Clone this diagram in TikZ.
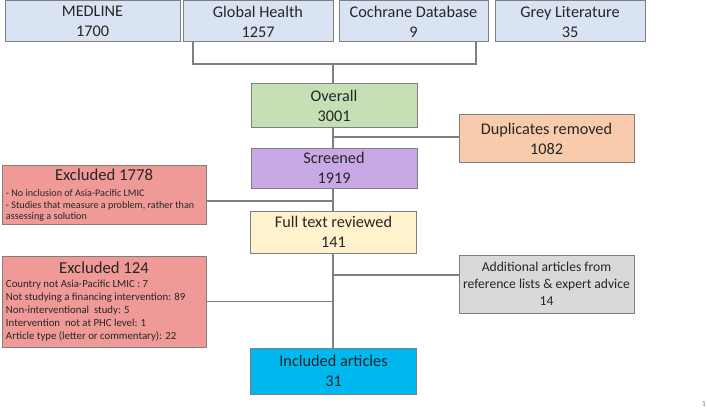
\documentclass[tikz,border=0pt]{standalone}
\usepackage{fontspec}
\setmainfont{Carlito}
\usepackage{tikz}
\usetikzlibrary{positioning,calc}

\definecolor{linegray}{HTML}{7F7F7F}
\definecolor{txt}{HTML}{262626}
\definecolor{srcblue}{HTML}{DAE3F3}
\definecolor{overallgreen}{HTML}{C5E0B4}
\definecolor{duppeach}{HTML}{F8CBAD}
\definecolor{screenpurple}{HTML}{C8A9E6}
\definecolor{exclred}{HTML}{F09A98}
\definecolor{fullyellow}{HTML}{FFF2CC}
\definecolor{addgray}{HTML}{D9D9D9}
\definecolor{inclcyan}{HTML}{00B8F0}

\newcommand{\excltitle}[1]{\makebox[147pt][c]{\fontsize{12.5}{15}\selectfont #1}}

\tikzset{
  box/.style={draw=linegray, line width=0.75pt, text=txt, align=center,
    inner sep=2pt, font=\fontsize{12.2}{15}\selectfont},
  srcbox/.style={box, fill=srcblue, minimum height=30.75pt},
  stage/.style={box, minimum width=124.5pt},
  exclbox/.style={box, fill=exclred, minimum width=153pt, align=left},
  link/.style={draw=linegray, line width=0.8pt}
}

\begin{document}
\begin{tikzpicture}[x=0.75pt,y=-0.75pt]
\useasboundingbox (0,0) rectangle (707,410);

\foreach \n/\t/\v/\x/\w in {medline/MEDLINE/1700/92.5/131.25,
    global/Global Health/1257/258/112.5,
    cochrane/Cochrane Database/9/413.5/111.75,
    grey/Grey Literature/35/570/112.5}
  \node[srcbox, minimum width=\w pt] (\n) at (\x,21.5) {\t\\\v};

\node[stage, fill=overallgreen, minimum height=32.25pt] (overall) at (334,105.5) {Overall\\3001};
\node[box, fill=duppeach, minimum width=131.25pt, minimum height=35.25pt] (dup) at (546.5,138.5) {Duplicates removed\\1082};
\node[stage, fill=screenpurple, minimum height=30pt] (screened) at (334,168) {Screened\\1919};
\node[stage, fill=fullyellow, minimum height=31.5pt] (full) at (333.5,232) {Full text reviewed\\141};
\node[stage, fill=inclcyan, minimum height=34.5pt] (incl) at (333.5,371) {Included articles\\31};
\node[box, fill=addgray, minimum width=131.25pt, minimum height=43.5pt,
  font=\fontsize{10.2}{12.75}\selectfont] (add) at (546.5,284)
  {Additional articles from\\reference lists \&\ expert advice\\14};

\node[exclbox, minimum height=43.5pt, font=\fontsize{7.6}{8.6}\selectfont] (excl1) at (104,195)
  {\excltitle{Excluded 1778}\\[4pt]
   - No inclusion of Asia-Pacific LMIC\\
   - Studies that measure a problem, rather than\\
   assessing a solution};
\node[exclbox, minimum height=68.25pt, font=\fontsize{8.1}{9.6}\selectfont] (excl2) at (104,301.5)
  {\excltitle{Excluded 124}\\[1pt]
   Country not Asia-Pacific LMIC : 7\\
   Not studying a financing intervention: 89\\
   Non-interventional\ \ study: 5\\
   Intervention\ \ not at PHC level: 1\\
   Article type (letter or commentary): 22};

\coordinate (b1) at (193,64);
\coordinate (b2) at (476,64);
\coordinate (spine) at (333,64);
\coordinate (j1) at (333,201);
\coordinate (j2) at (333,137);
\coordinate (j3) at (333,275);

\draw[link] (b1 |- global.south) -- (b1) -- (b2) -- (b2 |- cochrane.south);
\draw[link] (spine) -- (overall.north -| spine);
\draw[link] (overall.south -| spine) -- (screened.north -| spine);
\draw[link] (screened.south -| spine) -- (full.north -| spine);
\draw[link] (full.south -| spine) -- (incl.north -| spine);
\draw[link] (j2) -- (j2 -| dup.west);
\draw[link] (excl1.east |- j1) -- (j1);
\draw[link] (excl2.east) -- (excl2.east -| spine);
\draw[link] (j3) -- (j3 -| add.west);

\node[text=linegray, font=\fontsize{6}{7}\selectfont] (pagenum) at (704,404) {1};
\end{tikzpicture}
\end{document}
